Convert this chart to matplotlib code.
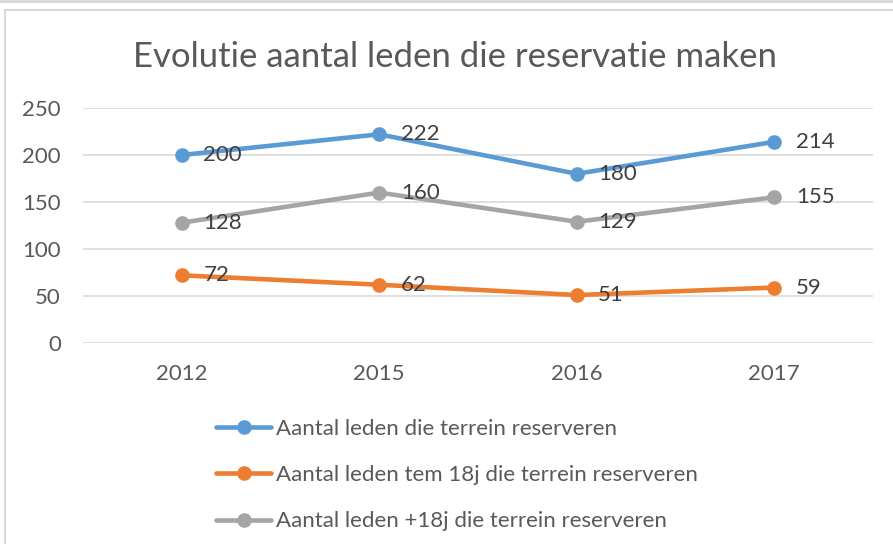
import matplotlib
matplotlib.use("Agg")
import matplotlib.pyplot as plt
from matplotlib.patches import Rectangle

plt.rcParams["font.family"] = ["Lato", "DejaVu Sans"]

years = ["2012", "2015", "2016", "2017"]
totaal = [200, 222, 180, 214]
tem_18j = [72, 62, 51, 59]
plus_18j = [128, 160, 129, 155]

series = [
    ("Aantal leden die terrein reserveren", totaal, "#5B9BD5"),
    ("Aantal leden tem 18j die terrein reserveren", tem_18j, "#ED7D31"),
    ("Aantal leden +18j die terrein reserveren", plus_18j, "#A5A5A5"),
]

fig = plt.figure(figsize=(8.93, 5.44), dpi=100)

# chart frame like the spreadsheet export
fig.patches.append(Rectangle((0, 1 - 3 / 544), 1, 3 / 544, transform=fig.transFigure,
                             facecolor="#D9D9D9", edgecolor="none", zorder=-10))
fig.patches.append(Rectangle((5 / 893, -0.05), 1.1, 1 - 10 / 544 + 0.05, transform=fig.transFigure,
                             facecolor="white", edgecolor="#D9D9D9", linewidth=1.5, zorder=-10))

ax = fig.add_axes([83 / 893, 201 / 544, 790 / 893, 235 / 544])
ax.set_facecolor("none")

x = list(range(len(years)))
for label, vals, color in series:
    ax.plot(x, vals, color=color, linewidth=3.3, marker="o", markersize=9.5,
            label=label, solid_capstyle="round")
    for xi, v in zip(x, vals):
        ax.annotate(str(v), (xi, v), xytext=(15.5, 0), textcoords="offset points",
                    ha="left", va="center", fontsize=16, color="#404040")

ax.set_xlim(-0.5, len(years) - 0.5)
ax.set_ylim(0, 250)
ax.set_yticks(range(0, 251, 50))
ax.set_xticks(x)
ax.set_xticklabels(years)
ax.grid(axis="y", color="#D9D9D9", linewidth=1.2)
ax.set_axisbelow(True)
for s in ax.spines.values():
    s.set_visible(False)
ax.tick_params(length=0, labelsize=16, labelcolor="#595959")
ax.tick_params(axis="y", pad=16)
ax.tick_params(axis="x", pad=15)

fig.text(455 / 893, 1 - 57 / 544, "Evolutie aantal leden die reservatie maken",
         ha="center", va="center", fontsize=25, color="#595959")

fig.legend(loc="upper left", bbox_to_anchor=(207 / 893, 1 - 410 / 544), frameon=False,
           fontsize=16, labelcolor="#595959", handlelength=2.5, handletextpad=0.2,
           labelspacing=1.18, borderaxespad=0)

fig.savefig("out.png", dpi=100)
